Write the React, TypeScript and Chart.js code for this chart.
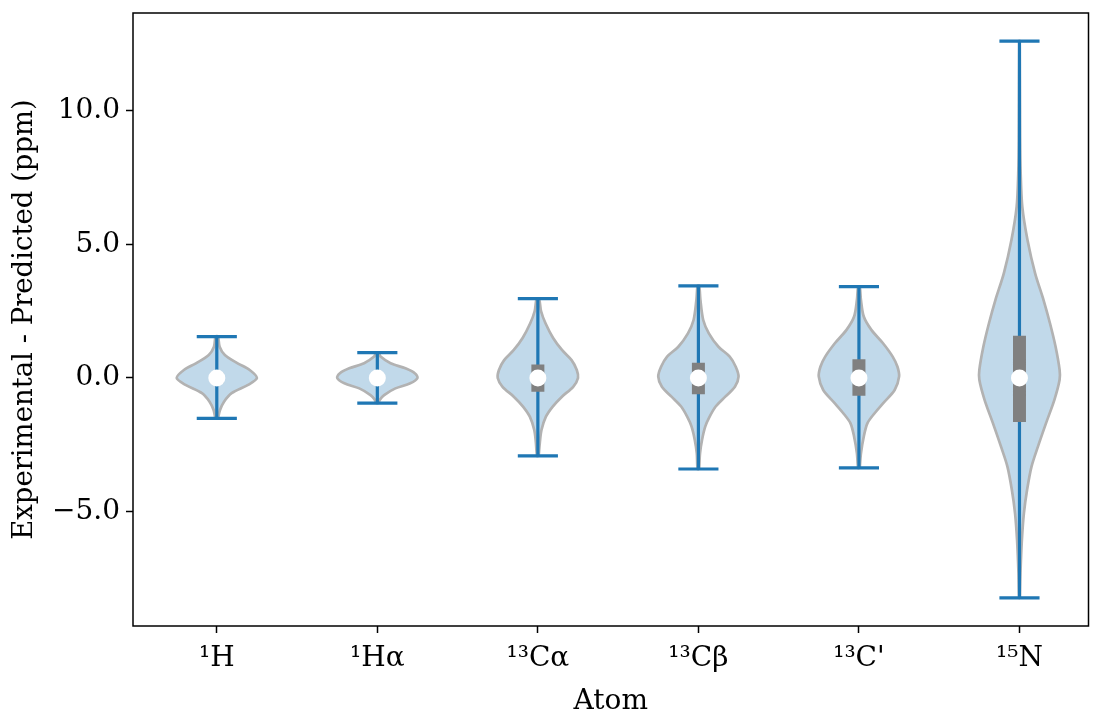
import React, { useEffect, useRef } from "react";
import { Chart, registerables } from "chart.js";

Chart.register(...registerables);

// ---- data ----
const categories = ["¹H", "¹Hα", "¹³Cα", "¹³Cβ", "¹³C'", "¹⁵N"];
const positions = [1, 2, 3, 4, 5, 6];
const extremaMin = [-1.51, -0.94, -2.92, -3.41, -3.37, -8.24];
const extremaMax = [1.55, 0.95, 2.97, 3.45, 3.42, 12.62];
const quartile1 = [-0.2, -0.15, -0.52, -0.61, -0.67, -1.65];
const quartile3 = [0.2, 0.15, 0.5, 0.57, 0.7, 1.58];
const means = [0, 0, 0, 0, 0, 0];

// density outline (value level -> relative half width)
const hLevels = [-1.51, -1.2, -0.89, -0.57, -0.26, 0.0, 0.3, 0.55, 0.86, 1.17, 1.55];
const hWidths = [0.03, 0.08, 0.18, 0.37, 0.78, 1.0, 0.82, 0.52, 0.2, 0.07, 0.03];
const haLevels = [-0.94, -0.82, -0.64, -0.39, -0.2, 0.0, 0.17, 0.36, 0.55, 0.8, 0.95];
const haWidths = [0.03, 0.06, 0.17, 0.45, 0.82, 1.0, 0.94, 0.7, 0.33, 0.08, 0.03];
const caLevels = [-2.92, -2.4, -1.95, -1.45, -1.07, -0.7, -0.33, 0.0, 0.3, 0.67, 1.05, 1.5, 2.05, 2.5, 2.97];
const caWidths = [0.02, 0.05, 0.09, 0.2, 0.37, 0.6, 0.88, 1.0, 0.97, 0.84, 0.6, 0.38, 0.19, 0.08, 0.03];
const cbLevels = [-3.41, -2.82, -2.32, -1.82, -1.45, -1.07, -0.7, -0.33, 0.05, 0.42, 0.8, 1.17, 1.67, 2.17, 2.92, 3.45];
const cbWidths = [0.02, 0.04, 0.09, 0.17, 0.28, 0.43, 0.67, 0.91, 1.0, 0.93, 0.78, 0.5, 0.26, 0.12, 0.05, 0.02];
const cpLevels = [-3.37, -2.82, -2.2, -1.7, -1.32, -0.95, -0.45, 0.05, 0.42, 0.8, 1.3, 1.8, 2.3, 2.92, 3.42];
const cpWidths = [0.02, 0.05, 0.12, 0.21, 0.39, 0.6, 0.89, 1.0, 0.96, 0.84, 0.6, 0.31, 0.12, 0.05, 0.02];
const nLevels = [-8.24, -7.3, -6.07, -5.07, -4.19, -3.32, -2.57, -1.7, -0.82, -0.07, 0.3, 1.17, 2.05, 2.92, 3.92, 5.17, 6.42, 7.67, 9.0, 12.62];
const nWidths = [0.01, 0.025, 0.06, 0.11, 0.19, 0.3, 0.46, 0.66, 0.87, 1.0, 1.0, 0.9, 0.76, 0.6, 0.39, 0.2, 0.07, 0.03, 0.015, 0.005];

const violinLevels = [hLevels, haLevels, caLevels, cbLevels, cpLevels, nLevels];
const violinWidths = [hWidths, haWidths, caWidths, cbWidths, cpWidths, nWidths];

const yTickValues = [-5, 0, 5, 10];
const yTickLabels = ["−5.0", "0.0", "5.0", "10.0"];

const X_MIN = 0.478;
const X_MAX = 6.43;
const Y_MIN = -9.29;
const Y_MAX = 13.67;
const HALF = 0.25; // half of violin width
const CAP_HALF = 0.125;

const FONT = { family: "DejaVu Serif", size: 28 };
const TITLE_FONT = { family: "DejaVu Serif", size: 27.5 };

const framePlugin = {
  id: "frame",
  afterDatasetsDraw(chart: any) {
    const { ctx, chartArea } = chart;
    ctx.save();
    ctx.strokeStyle = "#000";
    ctx.lineWidth = 1.5;
    ctx.strokeRect(chartArea.left, chartArea.top, chartArea.right - chartArea.left, chartArea.bottom - chartArea.top);
    ctx.restore();
  },
};

export default function App() {
  const ref = useRef<HTMLCanvasElement>(null);
  useEffect(() => {
    if (!ref.current) return;
    const violinSets = positions.map((p, i) => {
      const lv = violinLevels[i];
      const wd = violinWidths[i];
      const right = lv.map((y, k) => ({ x: p + HALF * wd[k], y }));
      const left = lv.map((y, k) => ({ x: p - HALF * wd[k], y })).reverse();
      return {
        type: "line",
        data: [...right, ...left, right[0]],
        fill: "shape",
        backgroundColor: "rgba(31,119,180,0.28)",
        borderColor: "#b2b2b2",
        borderWidth: 2.7,
        pointRadius: 0,
        tension: 0.3,
        order: 4,
      };
    });
    const stems: any[] = [];
    const caps: any[] = [];
    const boxes: any[] = [];
    positions.forEach((p, i) => {
      stems.push({ x: p, y: extremaMin[i] }, { x: p, y: extremaMax[i] }, { x: p, y: null });
      caps.push({ x: p - CAP_HALF, y: extremaMax[i] }, { x: p + CAP_HALF, y: extremaMax[i] }, { x: p, y: null });
      caps.push({ x: p - CAP_HALF, y: extremaMin[i] }, { x: p + CAP_HALF, y: extremaMin[i] }, { x: p, y: null });
      boxes.push({ x: p, y: quartile1[i] }, { x: p, y: quartile3[i] }, { x: p, y: null });
    });
    const lineCommon = { type: "line", pointRadius: 0, fill: false, spanGaps: false, borderCapStyle: "butt", tension: 0 };
    const chart = new Chart(ref.current, {
      type: "scatter",
      data: {
        datasets: [
          ...violinSets,
          { ...lineCommon, data: stems, borderColor: "#1f77b4", borderWidth: 3.2, order: 3 },
          { ...lineCommon, data: caps, borderColor: "#1f77b4", borderWidth: 3.2, order: 3 },
          { ...lineCommon, data: boxes, borderColor: "#808080", borderWidth: 13, order: 2 },
          {
            type: "scatter",
            data: positions.map((p, i) => ({ x: p, y: means[i] })),
            pointRadius: 8.5,
            pointBackgroundColor: "#ffffff",
            pointBorderWidth: 0,
            order: 1,
          },
        ] as any,
      },
      options: {
        animation: false,
        responsive: true,
        maintainAspectRatio: false,
        events: [],
        layout: { padding: { left: 0, top: 13, right: 7, bottom: 0 } },
        plugins: { legend: { display: false }, tooltip: { enabled: false } },
        scales: {
          x: {
            type: "linear",
            min: X_MIN,
            max: X_MAX,
            afterBuildTicks: (s: any) => {
              s.ticks = positions.map((v) => ({ value: v }));
            },
            afterFit: (s: any) => {
              s.height = 89;
              s.paddingLeft = 0;
              s.paddingRight = 0;
            },
            ticks: {
              autoSkip: false,
              maxRotation: 0,
              padding: 9,
              color: "#000",
              font: FONT,
              callback: (v: any) => categories[positions.indexOf(Number(v))] ?? "",
            },
            grid: { display: true, drawOnChartArea: false, drawTicks: true, tickLength: 7, tickWidth: 1.5, tickColor: "#000" },
            border: { display: false },
            title: { display: true, text: "Atom", color: "#000", font: FONT, padding: { top: 0, bottom: -4 } },
          },
          y: {
            type: "linear",
            min: Y_MIN,
            max: Y_MAX,
            afterBuildTicks: (s: any) => {
              s.ticks = yTickValues.map((v) => ({ value: v }));
            },
            afterFit: (s: any) => {
              s.width = 133;
              s.paddingTop = 0;
              s.paddingBottom = 0;
            },
            ticks: {
              padding: 6,
              color: "#000",
              font: FONT,
              callback: (v: any) => yTickLabels[yTickValues.indexOf(Number(v))] ?? "",
            },
            grid: { display: true, drawOnChartArea: false, drawTicks: true, tickLength: 7, tickWidth: 1.5, tickColor: "#000" },
            border: { display: false },
            title: {
              display: true,
              text: "Experimental - Predicted (ppm)",
              color: "#000",
              font: TITLE_FONT,
              padding: { top: 8, bottom: 0 },
            },
          },
        },
      } as any,
      plugins: [framePlugin],
    });
    return () => chart.destroy();
  }, []);
  return (
    <div style={{ position: "absolute", left: 0, top: 0, width: 1097, height: 715 }}>
      <canvas ref={ref} />
    </div>
  );
}
